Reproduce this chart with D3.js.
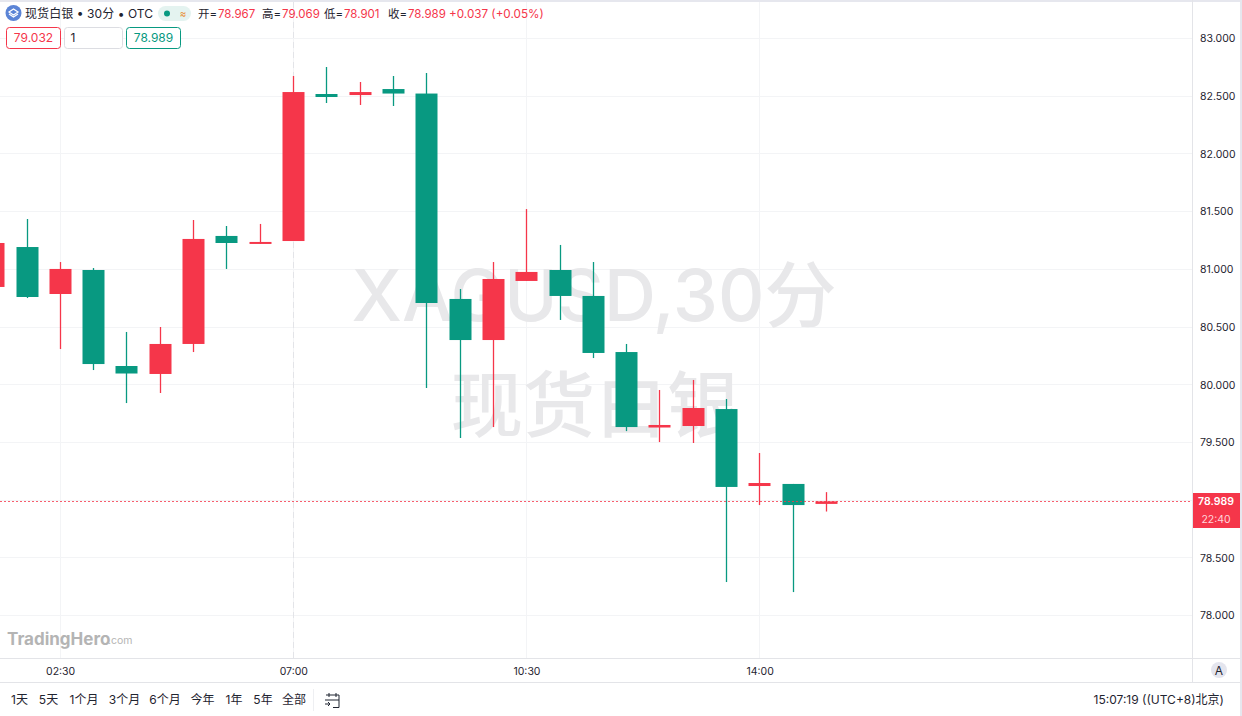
<!DOCTYPE html>
<html><head><meta charset="utf-8">
<script src="https://cdn.jsdelivr.net/npm/d3@7"></script>
<style>
html,body{margin:0;padding:0;background:#fff;overflow:hidden}
svg{display:block}
text{font-family:Inter,"Liberation Sans","Noto Sans CJK SC",sans-serif}
</style></head><body><svg id="c" width="1242" height="716"></svg>
<script>
const opens  =[80.847,81.193,80.786,80.994,80.162,80.093,80.353,81.289,81.224,81.245,82.519,82.510,82.562,82.523,80.743,80.387,80.899,80.994,80.769,80.283,79.629,79.642,79.789,79.122,79.140,78.967];
const highs  =[81.228,81.436,81.063,81.011,80.457,80.500,81.427,81.375,81.393,82.675,82.753,82.623,82.675,82.701,80.829,81.063,81.522,81.211,81.063,80.353,79.954,80.041,79.876,79.408,79.140,79.069];
const lows   =[80.847,80.751,80.309,80.127,79.841,79.928,80.283,81.003,81.219,81.245,82.441,82.424,82.415,79.971,79.538,79.633,80.899,80.561,80.231,79.598,79.503,79.495,78.290,78.957,78.203,78.901];
const closes =[81.228,80.760,81.003,80.179,80.097,80.353,81.263,81.228,81.237,82.536,82.493,82.536,82.523,80.708,80.387,80.916,80.977,80.769,80.275,79.633,79.651,79.798,79.114,79.148,78.957,78.989];
const priceTicks=[78,78.5,79,79.5,80,80.5,81,81.5,82,82.5,83];
const timeTicks=[[2,"02:30"],[9,"07:00"],[16,"10:30"],[23,"14:00"]];
const rangeLabels=["1天","5天","1个月","3个月","6个月","今年","1年","5年","全部"];
const rangeX=[19.5,48.5,84,124.5,165,202.5,234,263,294];
const lastPrice=78.989;

const RED="#F5364A",GREEN="#089981",INK="#1f2430";
const svg=d3.select("#c");
const W=1242,H=716,paneR=1192,paneB=658,footT=682;
const y=d3.scaleLinear().domain([78,83]).range([615.5,38.5]);
const x=d3.scaleLinear().domain([0,25]).range([-6.8,826]);
const bw=22;

svg.append("rect").attr("width",W).attr("height",H).attr("fill","#fff");
svg.append("rect").attr("width",W).attr("height",2).attr("fill","#e6e7ee");
svg.append("rect").attr("x",1240).attr("width",2).attr("height",H).attr("fill","#e6e7ee");

const grid=svg.append("g").attr("stroke","#f3f4f6").attr("stroke-width",1);
grid.selectAll("line.h").data(priceTicks).join("line").attr("class","h")
  .attr("x1",0).attr("x2",paneR).attr("y1",d=>Math.floor(y(d))+.5).attr("y2",d=>Math.floor(y(d))+.5);
grid.selectAll("line.v").data(timeTicks).join("line").attr("class","v")
  .attr("x1",d=>Math.round(x(d[0]))+.5).attr("x2",d=>Math.round(x(d[0]))+.5).attr("y1",2).attr("y2",paneB);

const wm=svg.append("g").attr("text-anchor","middle").attr("fill","#e8e8ea").attr("font-size",72).attr("font-weight",500);
wm.append("text").attr("x",594).attr("y",321).text("XAGUSD,30分");
wm.append("text").attr("x",595).attr("y",431).text("现货白银");

svg.append("line").attr("x1",293.5).attr("x2",293.5).attr("y1",2).attr("y2",paneB)
  .attr("stroke","#e3e4e8").attr("stroke-dasharray","6 4");

const data=opens.map((o,i)=>({i,o,h:highs[i],l:lows[i],c:closes[i]}));
const cg=svg.append("g");
const col=d=>d.c>=d.o?RED:GREEN;
cg.selectAll("line").data(data).join("line")
  .attr("x1",d=>Math.round(x(d.i))+.5).attr("x2",d=>Math.round(x(d.i))+.5)
  .attr("y1",d=>y(d.h)).attr("y2",d=>y(d.l)).attr("stroke",col).attr("stroke-width",1.3);
cg.selectAll("rect").data(data).join("rect")
  .attr("x",d=>Math.round(x(d.i))-bw/2+.5).attr("width",bw)
  .attr("y",d=>y(Math.max(d.o,d.c))).attr("height",d=>Math.max(2,Math.abs(y(d.o)-y(d.c))))
  .attr("fill",col);

svg.append("line").attr("x1",0).attr("x2",paneR).attr("y1",Math.round(y(lastPrice))+.5).attr("y2",Math.round(y(lastPrice))+.5)
  .attr("stroke",RED).attr("stroke-opacity",.8).attr("stroke-dasharray","2 2");

const logo=svg.append("g");
logo.append("text").attr("x",7).attr("y",645).attr("font-size",17).attr("font-weight",700).attr("fill","#b4b4b4").text("TradingHero");
logo.append("text").attr("x",108).attr("y",644).attr("font-size",10.5).attr("fill","#b4b4b4").text(".com");

const b=svg.append("g").attr("stroke","#e3e4e8");
b.append("line").attr("x1",paneR+.5).attr("x2",paneR+.5).attr("y1",0).attr("y2",footT);
b.append("line").attr("x1",0).attr("x2",1240).attr("y1",paneB+.5).attr("y2",paneB+.5);
b.append("line").attr("x1",0).attr("x2",1240).attr("y1",footT+.5).attr("y2",footT+.5);
b.append("line").attr("x1",313.5).attr("x2",313.5).attr("y1",689).attr("y2",711).attr("stroke","#eeeff2");

const ya=d3.axisRight(y).tickValues(priceTicks).tickFormat(d3.format(".3f")).tickSize(0).tickPadding(0);
const yg=svg.append("g").attr("transform","translate(1200,0)").call(ya);
yg.select(".domain").remove();
yg.selectAll("text").attr("font-size",10.5).attr("fill",INK).attr("font-family",null);

svg.append("rect").attr("x",1193).attr("y",493).attr("width",47).attr("height",35).attr("fill",RED);
svg.append("text").attr("x",1216).attr("y",505).attr("text-anchor","middle").attr("font-size",10.5).attr("font-weight",600).attr("fill","#fff").text(d3.format(".3f")(lastPrice));
svg.append("text").attr("x",1216).attr("y",523).attr("text-anchor","middle").attr("font-size",10.5).attr("fill","#ffd5da").text("22:40");

svg.append("g").selectAll("text").data(timeTicks).join("text")
  .attr("x",d=>x(d[0])+.8).attr("y",675).attr("text-anchor","middle").attr("font-size",10.5).attr("fill",INK).text(d=>d[1]);

svg.append("circle").attr("cx",1219).attr("cy",670).attr("r",8).attr("fill","#e4e5ee");
svg.append("text").attr("x",1219).attr("y",674.5).attr("text-anchor","middle").attr("font-size",12).attr("fill",INK).text("A");

svg.append("circle").attr("cx",13.5).attr("cy",13).attr("r",8).attr("fill","#5b84d6");
svg.append("path").attr("d","M9 12l4.5-3 4.5 3-4.5 3zM9 14l4.5 3 4.5-3").attr("fill","none").attr("stroke","#fff").attr("stroke-width",1.2);
svg.append("text").attr("x",25).attr("y",18).attr("font-size",12).attr("fill",INK).attr("textLength",128).attr("lengthAdjust","spacing").text("现货白银 • 30分 • OTC");
svg.append("rect").attr("x",158).attr("y",6).attr("width",33).attr("height",15).attr("rx",7.5).attr("fill","#e4f3f0");
svg.append("circle").attr("cx",167).attr("cy",13.5).attr("r",3).attr("fill",GREEN);
svg.append("text").attr("x",183).attr("y",17).attr("text-anchor","middle").attr("font-size",10).attr("fill","#e8913a").text("≈");

[["开=","78.967",198],["高=","79.069",262],["低=","78.901",324],["收=","78.989",388]].forEach(([a,v,px])=>{
  svg.append("text").attr("x",px).attr("y",18).attr("font-size",11.5).attr("fill",INK).text(a);
  svg.append("text").attr("x",px+20).attr("y",18).attr("font-size",11.5).attr("fill",RED).text(v);
});
svg.append("text").attr("x",449).attr("y",18).attr("font-size",11.7).attr("fill",RED).text("+0.037 (+0.05%)");

[[6.5,54,RED,"79.032",RED,"middle"],[64.5,58,"#dcdde2","1",INK,"start"],[126.5,54,GREEN,"78.989",GREEN,"middle"]].forEach(([bx,bwid,st,t,f,anc])=>{
  svg.append("rect").attr("x",bx).attr("y",27.5).attr("width",bwid).attr("height",21).attr("rx",3).attr("fill","#fff").attr("stroke",st);
  svg.append("text").attr("x",anc==="middle"?bx+bwid/2:bx+6).attr("y",42).attr("text-anchor",anc).attr("font-size",12).attr("fill",f).text(t);
});

svg.append("g").selectAll("text").data(rangeLabels).join("text")
  .attr("x",(d,i)=>rangeX[i]).attr("y",704).attr("text-anchor","middle").attr("font-size",12).attr("fill",INK).text(d=>d);
svg.append("path").attr("d","M326 695h13v12.5h-6M329 693v4M336 693v4M325 700h14M325 704h5M328 702l2 2-2 2").attr("fill","none").attr("stroke",INK).attr("stroke-width",1);
svg.append("text").attr("x",1224).attr("y",704).attr("text-anchor","end").attr("font-size",12).attr("fill",INK).text("15:07:19 ((UTC+8)北京)");
</script></body></html>
